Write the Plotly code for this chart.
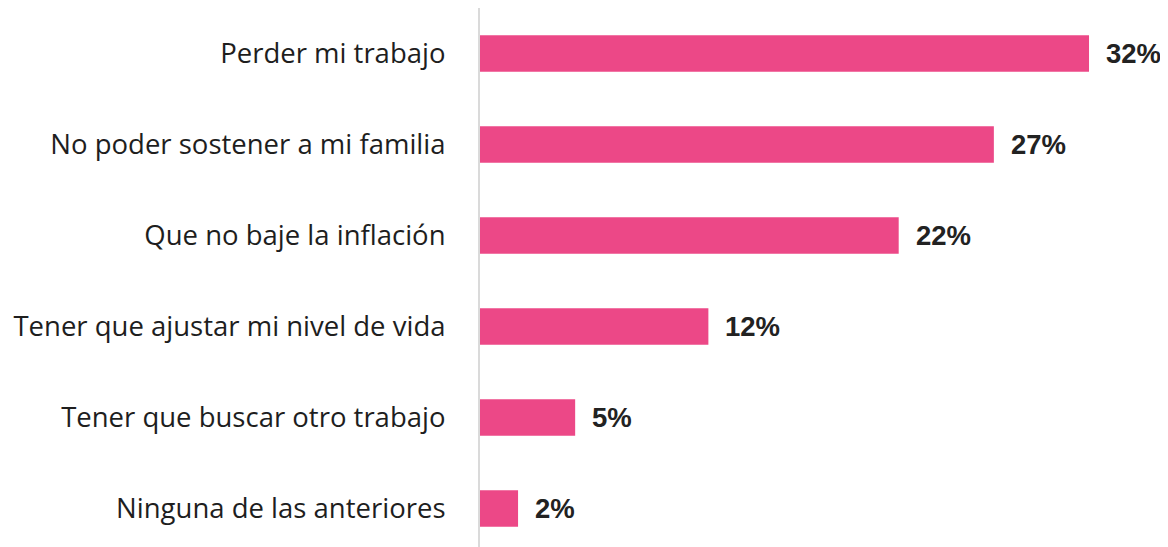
import plotly.graph_objects as go

categories = [
    "Perder mi trabajo",
    "No poder sostener a mi familia",
    "Que no baje la inflación",
    "Tener que ajustar mi nivel de vida",
    "Tener que buscar otro trabajo",
    "Ninguna de las anteriores",
]
values = [32, 27, 22, 12, 5, 2]
value_labels = ["32%", "27%", "22%", "12%", "5%", "2%"]

BAR_COLOR = "#EC4887"

fig = go.Figure()
fig.add_trace(go.Bar(
    x=values,
    y=categories,
    orientation="h",
    marker=dict(color=BAR_COLOR, line=dict(width=0)),
    width=0.4,
    hoverinfo="skip",
))

for c, v, t in zip(categories, values, value_labels):
    fig.add_annotation(
        x=v, y=c, text=t, showarrow=False,
        xanchor="left", yanchor="middle", xshift=15,
        font=dict(family="Liberation Sans, Arial", size=27.5, color="#222222", weight="bold"),
    )

fig.update_layout(
    width=1160, height=539,
    margin=dict(l=472, r=0, t=0, b=0, autoexpand=False),
    paper_bgcolor="white", plot_bgcolor="white",
    showlegend=False,
    xaxis=dict(range=[0, 36.15], visible=False, showgrid=False, zeroline=False, automargin=False),
    yaxis=dict(
        categoryorder="array", categoryarray=categories,
        range=[5.423, -0.5],
        automargin=False,
        showgrid=False, zeroline=False,
        showline=True, linecolor="#DADADA", linewidth=2,
        ticks="", ticklabelstandoff=27,
        tickfont=dict(family="Open Sans", size=27.5, color="#1E1E1E", weight=500),
    ),
)

fig.write_html("out.html")
